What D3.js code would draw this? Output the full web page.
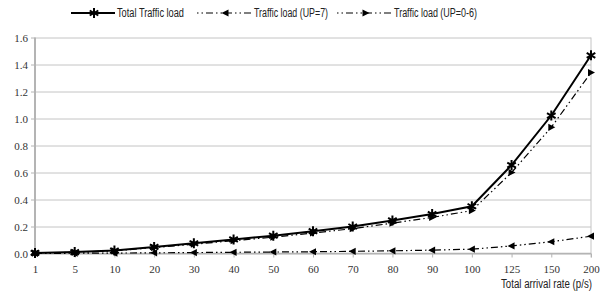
<!DOCTYPE html>
<html lang="en">
<head>
  <meta charset="UTF-8">
  <title>Traffic load</title>
  <script src="https://d3js.org/d3.v7.min.js"></script>
  <style>
    body { margin: 0; background: #fff; }
    .gridlines .domain { stroke: none; }
    .gridlines line { stroke: #c4c4c4; }
    .serif { font-family: "Liberation Serif", "Times New Roman", serif; font-size: 11px; }
    .sans { font-family: "Liberation Sans", Arial, sans-serif; }
  </style>
</head>
<body>
  <svg id="svg1" width="604" height="297"></svg>
  <script>
    // data
    let categories = ["1","5","10","20","30","40","50","60","70","80","90","100","125","150","200"];
    let totalLoad = [0.004, 0.011, 0.022, 0.049, 0.076, 0.104, 0.132, 0.165, 0.2, 0.245, 0.292, 0.35, 0.655, 1.022, 1.468];
    let loadUP7 = [0.0005, 0.002, 0.003, 0.005, 0.007, 0.009, 0.011, 0.013, 0.016, 0.02, 0.025, 0.032, 0.056, 0.087, 0.128];
    let loadUP06 = [0.0035, 0.009, 0.019, 0.044, 0.069, 0.095, 0.121, 0.152, 0.184, 0.225, 0.267, 0.318, 0.6, 0.935, 1.34];
    let yTicks = [0, 0.2, 0.4, 0.6, 0.8, 1.0, 1.2, 1.4, 1.6];
    let seriesNames = ["Total Traffic load", "Traffic load (UP=7)", "Traffic load (UP=0-6)"];

    let svg1 = d3.select("svg#svg1");
    let margin = {top: 37.5, right: 13, bottom: 43.5, left: 35};
    let width = +svg1.attr("width");
    let height = +svg1.attr("height");
    let chartWidth = width - margin.left - margin.right;
    let chartHeight = height - margin.top - margin.bottom;

    const xScale = d3.scalePoint().domain(categories).range([0, chartWidth]);
    const yScale = d3.scaleLinear().domain([0, 1.6]).range([chartHeight, 0]);

    let annotations = svg1.append("g").attr("id", "annotations")
                          .attr("transform", `translate(${margin.left},${margin.top})`);
    let chartArea = svg1.append("g").attr("id", "points")
                        .attr("transform", `translate(${margin.left},${margin.top})`);

    // horizontal gridlines
    let leftGridlines = d3.axisLeft(yScale).tickValues(yTicks).tickFormat("").tickSize(-chartWidth);
    annotations.append("g").attr("class", "gridlines").call(leftGridlines);

    // right border
    annotations.append("line")
               .attr("x1", chartWidth).attr("x2", chartWidth)
               .attr("y1", 0).attr("y2", chartHeight + 4)
               .attr("stroke", "#c4c4c4");

    // y axis
    let leftAxis = d3.axisLeft(yScale).tickValues(yTicks).tickFormat(d3.format(".1f")).tickSize(4).tickPadding(3);
    let yAxisG = annotations.append("g").attr("class", "y axis").call(leftAxis)
                            .attr("font-family", null).attr("font-size", null);
    yAxisG.select(".domain").attr("stroke", "#b4b4b4").attr("stroke-width", 2).attr("d", `M0,0V${chartHeight}`);
    yAxisG.selectAll(".tick line").attr("stroke", "#b4b4b4");
    yAxisG.selectAll("text").attr("class", "serif").attr("fill", "#333");

    // x axis
    let bottomAxis = d3.axisBottom(xScale).tickSize(4).tickPadding(8);
    let xAxisG = annotations.append("g").attr("class", "x axis")
                            .attr("transform", `translate(0,${chartHeight})`).call(bottomAxis)
                            .attr("font-family", null).attr("font-size", null);
    xAxisG.select(".domain").attr("stroke", "#b4b4b4").attr("stroke-width", 1.5).attr("d", `M0,0H${chartWidth}`);
    xAxisG.selectAll(".tick line").attr("stroke", "#b4b4b4");
    xAxisG.selectAll("text").attr("class", "serif").attr("fill", "#333");

    // axis title (narrow face in the original, squeezed to fit)
    svg1.append("text")
        .attr("class", "sans")
        .attr("x", 501)
        .attr("y", 288)
        .attr("textLength", 91)
        .attr("lengthAdjust", "spacingAndGlyphs")
        .style("font-size", "12px")
        .attr("fill", "#222")
        .text("Total arrival rate (p/s)");

    // marker shapes
    const starPath = "M0,-5V5M-4.3,-2.5L4.3,2.5M-4.3,2.5L4.3,-2.5";
    const leftTri = "M-4,0L3,-3.6L3,3.6Z";
    const rightTri = "M4,0L-3,-3.6L-3,3.6Z";
    const dashDotDot = "7,3,1.5,3,1.5,3";

    let series = [
      {values: totalLoad, width: 2, dash: null, marker: starPath, stroked: true},
      {values: loadUP7, width: 1.2, dash: dashDotDot, marker: leftTri, stroked: false},
      {values: loadUP06, width: 1.2, dash: dashDotDot, marker: rightTri, stroked: false}
    ];

    let lineGen = d3.line()
                    .x((d, i) => xScale(categories[i]))
                    .y(d => yScale(d));

    // draw lower series first so total sits on top
    [2, 1, 0].forEach(k => {
      let s = series[k];
      chartArea.append("path")
               .datum(s.values)
               .attr("fill", "none")
               .attr("stroke", "#000")
               .attr("stroke-width", s.width)
               .attr("stroke-dasharray", s.dash)
               .attr("d", lineGen);
      s.values.forEach((d, i) => {
        let m = chartArea.append("path")
                         .attr("d", s.marker)
                         .attr("transform", `translate(${xScale(categories[i])},${yScale(d)})`);
        if (s.stroked) {
          m.attr("fill", "none").attr("stroke", "#000").attr("stroke-width", 2);
        } else {
          m.attr("fill", "#000");
        }
      });
    });

    // legend
    let legend = svg1.append("g").attr("id", "legend");
    let legendLine = [[71, 115], [197, 252], [337, 392]];
    let legendText = [[117, 67], [254, 74], [394, 83]];
    let legendY = 13;
    series.forEach((s, k) => {
      let [x0, x1] = legendLine[k];
      legend.append("line")
            .attr("x1", x0).attr("x2", x1)
            .attr("y1", legendY).attr("y2", legendY)
            .attr("stroke", "#000")
            .attr("stroke-width", s.width)
            .attr("stroke-dasharray", s.dash ? "1.5,3,1.5,3,7,3" : null);
      let m = legend.append("path")
                    .attr("d", s.marker)
                    .attr("transform", `translate(${(x0 + x1) / 2 + 1},${legendY})`);
      if (s.stroked) {
        m.attr("fill", "none").attr("stroke", "#000").attr("stroke-width", 2);
      } else {
        m.attr("fill", "#000");
      }
      legend.append("text")
            .attr("class", "sans")
            .attr("x", legendText[k][0])
            .attr("y", legendY + 4)
            .attr("textLength", legendText[k][1])
            .attr("lengthAdjust", "spacingAndGlyphs")
            .style("font-size", "12px")
            .attr("fill", "#222")
            .text(seriesNames[k]);
    });
  </script>
</body>
</html>
